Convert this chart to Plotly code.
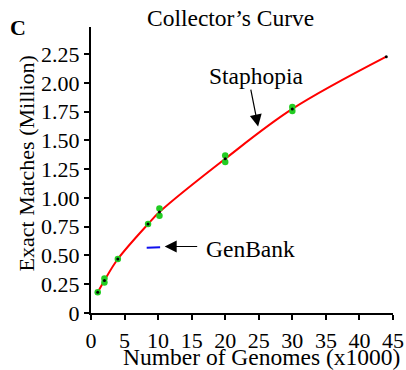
import plotly.graph_objects as go

# Staphopia collector's curve (means)
genomes = [1, 2, 4, 8.5, 10.2, 20, 30, 44]
mean_matches = [0.18, 0.283, 0.469, 0.773, 0.877, 1.34, 1.773, 2.227]

# Individual replicate values (green)
rep_genomes = [1, 2, 2, 4, 8.5, 10.2, 10.2, 20, 20, 30, 30]
rep_matches = [0.18, 0.30, 0.265, 0.469, 0.773, 0.908, 0.845, 1.368, 1.311, 1.79, 1.755]

# GenBank
genbank_genomes = [8.3, 10.3]
genbank_matches = [0.568, 0.572]

x_ticks = [0, 5, 10, 15, 20, 25, 30, 35, 40, 45]
y_ticks = [0, 0.25, 0.5, 0.75, 1.0, 1.25, 1.5, 1.75, 2.0, 2.25]
y_ticktext = ["0", "0.25", "0.50", "0.75", "1.00", "1.25", "1.50", "1.75", "2.00", "2.25"]

FONT = "Liberation Serif"
FS = 23.5
TICK_FS = 22

fig = go.Figure()
fig.add_trace(go.Scatter(x=genomes, y=mean_matches, mode="lines",
                         line=dict(color="#ff0000", width=2, shape="spline"),
                         hoverinfo="skip", showlegend=False))
fig.add_trace(go.Scatter(x=rep_genomes, y=rep_matches, mode="markers",
                         marker=dict(color="#22cc22", size=6.5, line=dict(width=0)),
                         showlegend=False))
fig.add_trace(go.Scatter(x=genomes, y=mean_matches, mode="markers",
                         marker=dict(color="black", size=3),
                         showlegend=False))
fig.add_trace(go.Scatter(x=genbank_genomes, y=genbank_matches, mode="lines",
                         line=dict(color="#1010ee", width=2),
                         showlegend=False))

annotations = [
    dict(text="Collector’s Curve", xref="paper", yref="paper", x=0.4635, y=1.0314,
         xanchor="center", yanchor="middle", showarrow=False,
         font=dict(family=FONT, size=FS, color="black")),
    dict(text="<b>C</b>", xref="paper", yref="paper", x=-0.2416, y=1.0,
         xanchor="center", yanchor="middle", showarrow=False,
         font=dict(family=FONT, size=22, color="black")),
    dict(text="Number of Genomes (x1000)", xref="paper", yref="paper", x=0.5647, y=-0.153,
         xanchor="center", yanchor="middle", showarrow=False,
         font=dict(family=FONT, size=FS, color="black")),
    dict(text="Exact Matches (Million)", xref="paper", yref="paper", x=-0.2133, y=0.5215,
         xanchor="center", yanchor="middle", showarrow=False, textangle=-90,
         font=dict(family=FONT, size=22, color="black")),
    dict(text="Staphopia", x=24.6, y=2.06, xref="x", yref="y",
         xanchor="center", yanchor="middle", showarrow=False,
         font=dict(family=FONT, size=FS, color="black")),
    dict(text="", x=24.9, y=1.62, xref="x", yref="y", showarrow=True,
         ax=-7.6, ay=-38.4, arrowhead=2, arrowsize=2, arrowwidth=1.2, arrowcolor="black"),
    dict(text="GenBank", x=23.8, y=0.56, xref="x", yref="y",
         xanchor="center", yanchor="middle", showarrow=False,
         font=dict(family=FONT, size=FS, color="black")),
    dict(text="", x=10.98, y=0.578, xref="x", yref="y", showarrow=True,
         ax=34, ay=0, arrowhead=2, arrowsize=2, arrowwidth=1.2, arrowcolor="black"),
]

fig.update_layout(
    width=406, height=370,
    margin=dict(l=91, r=13, t=27, b=57, autoexpand=False),
    paper_bgcolor="white", plot_bgcolor="white",
    font=dict(family=FONT, size=FS, color="black"),
    annotations=annotations,
    xaxis=dict(range=[0, 45], tickvals=x_ticks, showline=True, linecolor="black",
               linewidth=2, ticks="outside", ticklen=5, tickwidth=2, tickcolor="black",
               showgrid=False, zeroline=False, automargin=False, ticklabelstandoff=2,
               tickfont=dict(family=FONT, size=TICK_FS)),
    yaxis=dict(range=[0, 2.485], tickvals=y_ticks, ticktext=y_ticktext, showline=True,
               linecolor="black", linewidth=2, ticks="outside", ticklen=5, tickwidth=2,
               tickcolor="black", showgrid=False, zeroline=False, automargin=False,
               tickfont=dict(family=FONT, size=TICK_FS)),
)

fig.write_html("out.html", config={"displayModeBar": False},
               post_script="document.body.style.margin='0';document.body.style.padding='0';")
